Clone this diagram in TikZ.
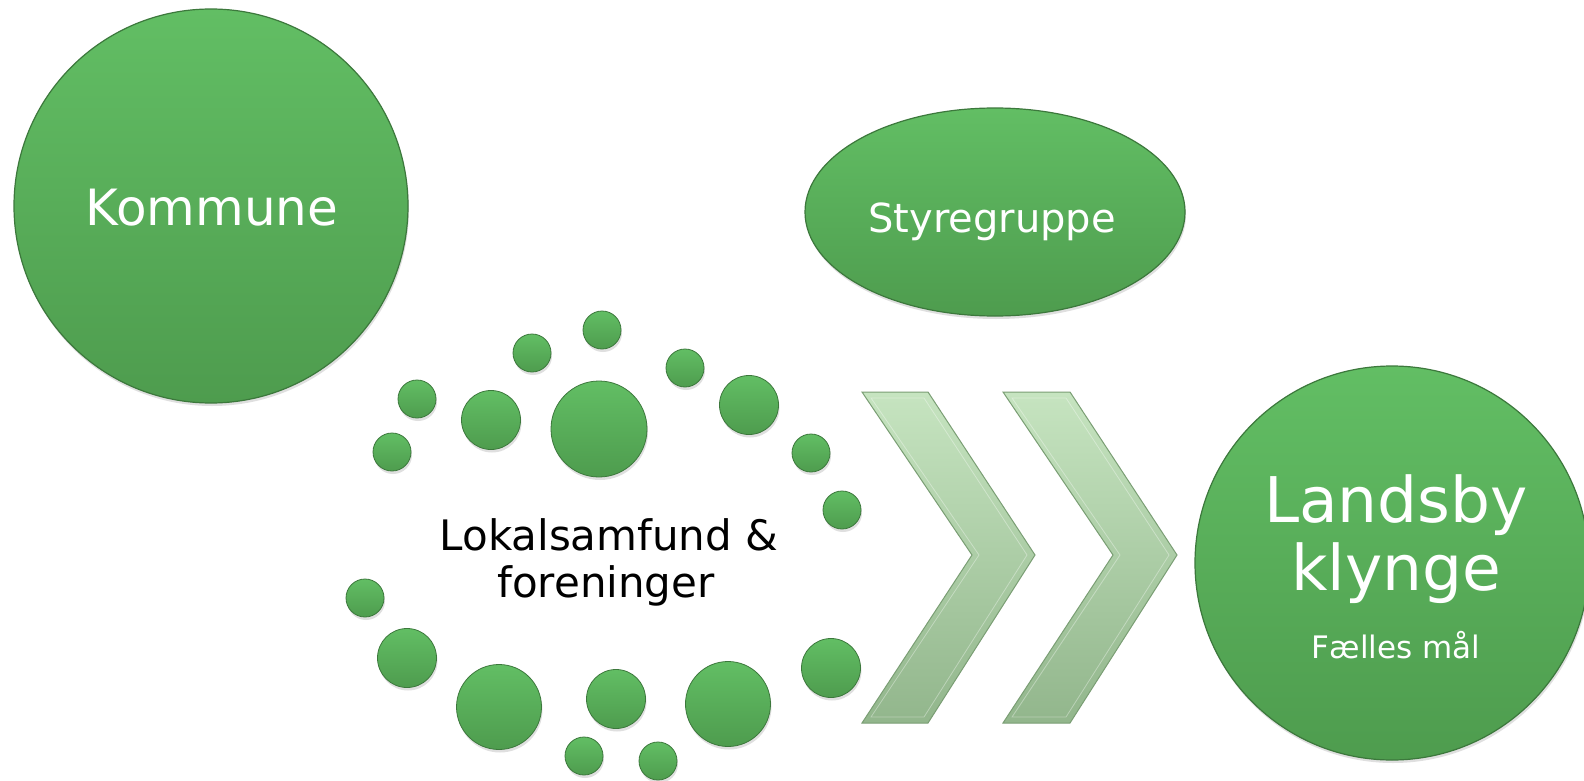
\documentclass[tikz,border=0pt]{standalone}
\usepackage{fontspec}
\setmainfont{DejaVu Sans}
\usepackage{tikz}
\usetikzlibrary{shapes,shadows}
\definecolor{leaftop}{RGB}{98,190,100}
\definecolor{leafbot}{RGB}{78,156,78}
\definecolor{leafrim}{RGB}{60,120,60}
\definecolor{chevtop}{RGB}{198,228,192}
\definecolor{chevbot}{RGB}{146,182,140}
\definecolor{chevrim}{RGB}{122,158,116}
\tikzstyle{disc} = [circle, draw=leafrim, line width=1.2pt,
                     top color=leaftop, bottom color=leafbot, inner sep=0pt,
                     drop shadow={shadow xshift=1pt, shadow yshift=-3pt, opacity=0.25}]
\tikzstyle{wtext} = [text=white, inner sep=0pt]
\tikzstyle{btext} = [text=black, inner sep=0pt]
\tikzstyle{chev} = [draw=chevrim, line width=1pt, line join=miter,
                     top color=chevtop, bottom color=chevbot]

\begin{document}
\begin{tikzpicture}[x=1pt, y=-1pt,
bead/.style={disc, line width=0.8pt},
small/.style={bead, minimum size=38},
mid/.style={bead, minimum size=59},
big/.style={bead, minimum size=85}]
\fill[white] (0,0) rectangle (1584,781);
\useasboundingbox (0,0) rectangle (1584,781);
%Kommune
\node[disc, minimum size=394] (kommune) at (211,206) {};
\node[wtext, font=\fontsize{50}{60}\selectfont, anchor=base] (kommunetxt) at (212,225) {Kommune};
%Styregruppe
\node[disc, ellipse, minimum width=380, minimum height=208] (styre) at (995,212) {};
\node[wtext, font=\fontsize{40}{48}\selectfont, anchor=base] (styretxt) at (992,232) {Styregruppe};
% Chevrons
\draw[chev] (862,392) -- (928,392) -- (1035,555) -- (928,723) -- (862,723) -- (972,555) -- cycle;
\draw[white, opacity=0.35, line width=0.8pt] (871,398) -- (924,398) -- (1027,555) -- (924,717) -- (871,717) -- (979,555) -- cycle;
\draw[chev] (1003,392) -- (1070,392) -- (1177,555) -- (1070,723) -- (1003,723) -- (1113,555) -- cycle;
\draw[white, opacity=0.35, line width=0.8pt] (1012,398) -- (1066,398) -- (1169,555) -- (1066,717) -- (1012,717) -- (1120,555) -- cycle;
%Landsby klynge
\node[disc, minimum size=394] (landsby) at (1392,563) {};
\node[wtext, font=\fontsize{63}{72}\selectfont, anchor=base] (landsbytxt) at (1396,522) {Landsby};
\node[wtext, font=\fontsize{63}{72}\selectfont, anchor=base] (klyngetxt) at (1396,590) {klynge};
\node[wtext, font=\fontsize{31}{36}\selectfont, anchor=base] (maaltxt) at (1396,658) {Fælles mål};
% Lokalsamfund
\node[small] (d1) at (602,330) {};
\node[small] (d2) at (532,353) {};
\node[small] (d3) at (685,368) {};
\node[small] (d4) at (417,399) {};
\node[mid] (d5) at (491,420) {};
\node[bead, minimum size=96] (d6) at (599,429) {};
\node[mid] (d7) at (749,405) {};
\node[small] (d8) at (392,452) {};
\node[small] (d9) at (811,453) {};
\node[small] (d10) at (842,510) {};
\node[small] (d11) at (365,598) {};
\node[mid] (d12) at (407,658) {};
\node[big] (d13) at (499,707) {};
\node[mid] (d14) at (616,699) {};
\node[big] (d15) at (728,704) {};
\node[mid] (d16) at (831,668) {};
\node[small] (d17) at (584,756) {};
\node[small] (d18) at (658,761) {};
\node[btext, font=\fontsize{42}{48}\selectfont, anchor=base] (lokaltxt) at (609,550) {Lokalsamfund \&};
\node[btext, font=\fontsize{42}{48}\selectfont, anchor=base] (foreningtxt) at (606,597) {foreninger};
\end{tikzpicture}
\end{document}
